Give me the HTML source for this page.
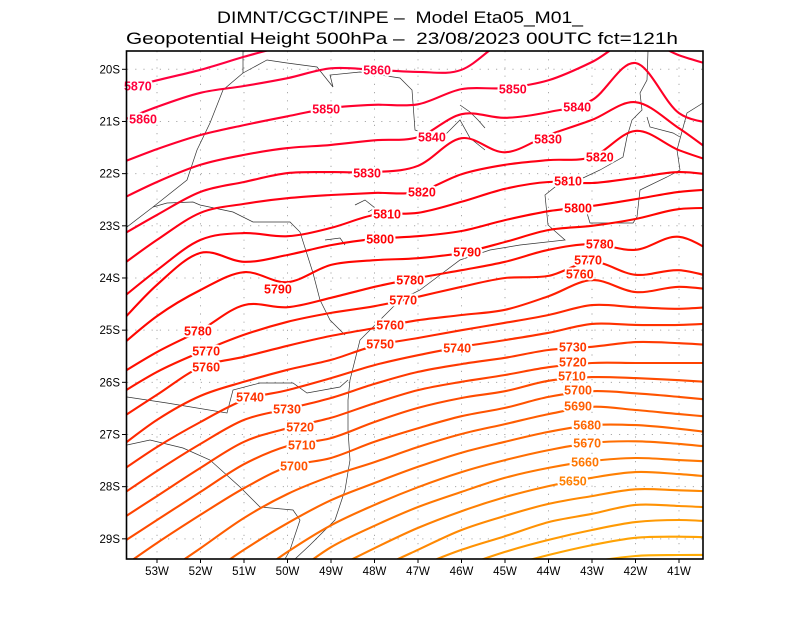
<!DOCTYPE html>
<html><head><meta charset="utf-8"><style>
html,body{margin:0;padding:0;background:#fff;width:800px;height:618px;overflow:hidden;}
svg{display:block;font-family:"Liberation Sans",sans-serif;overflow:hidden;}
</style></head><body>
<svg id="chart" width="800" height="618" viewBox="0 0 800 618" xmlns="http://www.w3.org/2000/svg">
<rect width="800" height="618" fill="#fff"/>
<text x="400" y="23" text-anchor="middle" font-size="16.5" textLength="366" lengthAdjust="spacingAndGlyphs" style="white-space:pre">DIMNT/CGCT/INPE –  Model Eta05_M01_</text>
<text x="402" y="44" text-anchor="middle" font-size="16.5" textLength="552" lengthAdjust="spacingAndGlyphs" style="white-space:pre">Geopotential Height 500hPa –  23/08/2023 00UTC fct=121h</text>
<defs><clipPath id="plotclip"><rect x="127" y="51" width="576" height="508"/></clipPath></defs>
<g id="grid"></g>
<g id="map" clip-path="url(#plotclip)" fill="none" stroke="#333" stroke-width="0.7">
<path d="M243,51 L243,73 L223,90 L210,123 L197,150 L187,180 L153,207 L127,227"/>
<path d="M243,73 L267,60 L287,63 L317,67 L333,87 L330,75 L360,72 L400,78 L412,90 L415,130 L440,140 L460,120 L470,138 L485,150"/>
<path d="M153,207 L167,203 L193,202 L200,205 L233,212 L253,222 L290,222 L300,232 L313,273 L320,300 L330,320 L345,335"/>
<path d="M127,397 L167,403 L227,413 L233,390 L260,383 L293,383 L307,393 L340,387 L348,380"/>
<path d="M127,445 L150,440 L183,448 L210,460 L240,487 L260,507 L293,510 L300,520 L290,550 L285,559"/>
<path d="M648,51 L647,80 L640,93 L642,110 L632,120 L627,137 L623,157 L600,170 L583,178 L560,183 L545,195 L548,225 L565,240 L520,245 L490,250 L460,260 L440,275 L420,290 L400,300 L380,320 L360,340 L355,360 L350,380 L348,400 L348,430 L350,460 L345,490 L335,520 L310,545 L295,559"/>
<path d="M703,103 L687,113 L677,150 L680,170 L667,177 L640,190 L637,217 L633,223 L590,223 L587,213 M647,117 L650,127 L673,133 L680,137"/>
<path d="M355,205 L365,200 L375,208 L368,212 M325,240 L340,238 L345,245 M460,105 L470,112 L478,120 L485,128"/>
</g>
<g id="contours" clip-path="url(#plotclip)"></g>
<g id="labels"></g>
<rect x="126.5" y="51" width="576.5" height="508" fill="none" stroke="#000" stroke-width="1.6"/>
<g id="axes"></g>
</svg>
<script>
// ---- data ----
const lons = [-54,-53,-52,-51,-50,-49,-48,-47,-46,-45,-44,-43,-42,-41,-40];
const levels = [5870,5860,5850,5840,5830,5820,5810,5800,5790,5780,5770,5760,5750,5740,5730,5720,5710,5700,5690,5680,5670,5660,5650,5640,5630,5620,5610,5600];
const lat5870 = [20.42,20.21,20.01,19.76,19.53,19.25,19.2,19.2,19.2,19.2,19.2,19.2,19.2,19.2,19.2];
const lat5860 = [21.05,20.72,20.45,20.32,20.17,19.98,20.01,20.05,20.01,19.44,19.25,19.15,19.15,19.25,19.34];
const lat5850 = [21.85,21.53,21.26,21.07,20.90,20.74,20.68,20.67,20.38,20.36,20.21,19.86,19.40,19.73,19.98];
const lat5840 = [22.56,22.16,21.83,21.64,21.51,21.45,21.36,21.30,20.86,20.93,20.82,20.59,19.88,20.84,21.05];
const lat5830 = [23.27,22.79,22.35,22.16,21.99,21.97,21.97,21.85,21.32,21.59,21.26,20.97,20.63,21.13,21.74];
const lat5820 = [23.87,23.27,22.75,22.58,22.47,22.41,22.37,22.35,22.01,21.83,21.74,21.68,21.18,21.55,21.83];
const lat5810 = [24.52,23.85,23.27,23.14,23.20,23.04,22.79,22.75,22.54,22.29,22.16,22.18,22.08,21.97,22.05];
const lat5800 = [25.00,24.13,23.52,23.69,23.56,23.37,23.25,23.20,23.10,22.89,22.72,22.62,22.49,22.35,22.29];
const lat5790 = [25.42,24.73,24.23,23.89,24.08,23.75,23.66,23.62,23.52,23.31,23.08,23.00,22.87,22.68,22.66];
const lat5780 = [25.92,25.42,25.00,24.52,24.56,24.38,24.17,24.00,23.85,23.69,23.46,23.35,23.46,23.21,23.62];
const lat5770 = [26.30,25.80,25.42,25.09,24.84,24.67,24.54,24.36,24.17,24.00,23.96,23.69,23.94,23.85,24.04];
const lat5760 = [26.78,26.24,25.71,25.51,25.30,25.11,24.96,24.81,24.71,24.61,24.35,24.04,24.27,24.17,24.25];
const lat5750 = [27.34,26.72,26.26,25.99,25.76,25.57,25.30,25.15,25.00,24.86,24.71,24.52,24.56,24.59,24.54];
const lat5740 = [27.80,27.24,26.76,26.34,26.15,25.92,25.67,25.48,25.32,25.19,25.05,24.88,24.90,24.90,24.86];
const lat5730 = [28.26,27.70,27.18,26.72,26.51,26.30,26.03,25.80,25.65,25.53,25.38,25.32,25.23,25.25,25.30];
const lat5720 = [28.72,28.18,27.64,27.14,26.88,26.68,26.40,26.15,25.99,25.86,25.71,25.63,25.63,25.63,25.63];
const lat5710 = [29.18,28.64,28.10,27.57,27.22,27.07,26.76,26.49,26.30,26.17,25.97,25.90,25.92,25.96,26.01];
const lat5700 = [29.66,29.08,28.54,28.03,27.62,27.45,27.14,26.88,26.65,26.49,26.28,26.17,26.21,26.28,26.36];
const lat5690 = [30.36,29.75,29.18,28.60,28.14,27.80,27.53,27.24,26.99,26.80,26.61,26.47,26.53,26.61,26.68];
const lat5680 = [31.04,30.40,29.79,29.21,28.70,28.26,27.93,27.62,27.35,27.14,26.95,26.82,26.82,26.89,26.99];
const lat5670 = [31.71,31.09,30.44,29.85,29.25,28.74,28.35,28.01,27.72,27.49,27.30,27.16,27.13,27.18,27.26];
const lat5660 = [32.20,31.59,30.98,30.36,29.75,29.16,28.75,28.39,28.10,27.83,27.64,27.51,27.45,27.49,27.53];
const lat5650 = [32.63,32.01,31.40,30.79,30.17,29.60,29.18,28.79,28.47,28.20,27.99,27.83,27.72,27.76,27.83];
const lat5640 = [33.16,32.55,31.94,31.32,30.71,30.13,29.60,29.21,28.83,28.56,28.33,28.18,28.05,28.07,28.10];
const lat5630 = [33.39,32.82,32.24,31.67,31.09,30.52,29.98,29.54,29.21,28.95,28.68,28.52,28.35,28.37,28.41];
const lat5620 = [33.62,33.05,32.47,31.90,31.32,30.75,30.27,29.89,29.54,29.25,29.02,28.83,28.68,28.64,28.68];
const lat5610 = [33.53,33.05,32.57,32.09,31.61,31.13,30.65,30.27,29.89,29.54,29.31,29.12,28.98,28.96,28.98];
const lat5600 = [33.05,32.66,32.28,31.90,31.51,31.13,30.75,30.46,30.17,29.89,29.64,29.44,29.33,29.31,29.31];
const contourLats = [lat5870,lat5860,lat5850,lat5840,lat5830,lat5820,lat5810,lat5800,lat5790,lat5780,lat5770,lat5760,lat5750,lat5740,lat5730,lat5720,lat5710,lat5700,lat5690,lat5680,lat5670,lat5660,lat5650,lat5640,lat5630,lat5620,lat5610,lat5600];
const labelLevels = [5870,5860,5860,5850,5850,5840,5840,5830,5830,5820,5820,5810,5810,5800,5800,5790,5790,5780,5780,5780,5770,5770,5770,5760,5760,5760,5750,5740,5740,5730,5730,5720,5720,5710,5710,5700,5700,5690,5680,5670,5660,5650];
const labelLons = [-53.44,-53.32,-47.94,-49.11,-44.82,-46.68,-43.34,-48.17,-44.01,-46.91,-42.82,-47.71,-43.55,-47.87,-43.32,-50.22,-45.87,-52.06,-47.18,-42.82,-51.87,-47.34,-43.09,-51.87,-47.64,-43.28,-47.87,-50.86,-46.10,-50.01,-43.44,-49.71,-43.44,-49.67,-43.46,-49.85,-43.32,-43.32,-43.11,-43.11,-43.16,-43.44];
const labelLats = [20.32,20.95,20.01,20.76,20.38,21.30,20.72,21.99,21.34,22.35,21.68,22.77,22.14,23.25,22.66,24.21,23.50,25.02,24.04,23.35,25.40,24.42,23.66,25.71,24.90,23.92,25.27,26.28,25.34,26.51,25.32,26.86,25.61,27.20,25.88,27.60,26.15,26.45,26.82,27.16,27.53,27.89];
const lonTicks = [-53,-52,-51,-50,-49,-48,-47,-46,-45,-44,-43,-42,-41];
const lonTickLabels = ["53W","52W","51W","50W","49W","48W","47W","46W","45W","44W","43W","42W","41W"];
const latTicks = [20,21,22,23,24,25,26,27,28,29];
const latTickLabels = ["20S","21S","22S","23S","24S","25S","26S","27S","28S","29S"];

// ---- axis functions ----
function xS(lon){ return 157 + (lon + 53) * 43.5; }
function yS(lat){ return 69.3 + (lat - 20) * 52.17; }
function colorFor(level){
  const h = (345 + (5870 - level) / 270 * 55) % 360;
  const l = 50 + Math.max(0, (5700 - level)) / 100 * 1;
  return 'hsl(' + h.toFixed(1) + ',100%,' + l.toFixed(1) + '%)';
}
const NS = 'http://www.w3.org/2000/svg';
function mk(tag, attrs){ const e = document.createElementNS(NS, tag); for (const k in attrs) e.setAttribute(k, attrs[k]); return e; }
function smoothPath(pts){
  let d = 'M' + pts[0][0].toFixed(1) + ',' + pts[0][1].toFixed(1);
  for (let i = 0; i < pts.length - 1; i++){
    const p0 = pts[i-1] || pts[i], p1 = pts[i], p2 = pts[i+1], p3 = pts[i+2] || p2;
    const c1x = p1[0] + (p2[0]-p0[0])/6, c1y = p1[1] + (p2[1]-p0[1])/6;
    const c2x = p2[0] - (p3[0]-p1[0])/6, c2y = p2[1] - (p3[1]-p1[1])/6;
    d += ' C' + c1x.toFixed(1)+','+c1y.toFixed(1)+' '+c2x.toFixed(1)+','+c2y.toFixed(1)+' '+p2[0].toFixed(1)+','+p2[1].toFixed(1);
  }
  return d;
}
// trim points far below the plot so paths stay within the page
function trimBottom(pts){
  const limit = 575;
  let k = 0;
  while (k < pts.length && pts[k][1] > limit) k++;
  if (k === 0 || k >= pts.length) return pts;
  const a = pts[k-1], b = pts[k];
  const t = (limit - a[1]) / (b[1] - a[1]);
  const start = [a[0] + t * (b[0] - a[0]), limit];
  return [start].concat(pts.slice(k));
}

// grid
const grid = document.getElementById('grid');
lonTicks.forEach(function(lon){
  const l = mk('line', {x1: xS(lon), x2: xS(lon), y1: 51, y2: 559, stroke: '#aaa', 'stroke-width': 1, 'stroke-dasharray': '1.2,7'});
  
  
  grid.appendChild(l);
});
latTicks.forEach(function(lat){
  const l = mk('line', {x1: 127, x2: 703, y1: yS(lat), y2: yS(lat), stroke: '#aaa', 'stroke-width': 1, 'stroke-dasharray': '1.2,7'});
  
  
  grid.appendChild(l);
});

// contours
const cg = document.getElementById('contours');
levels.forEach(function(level, i){
  const pts = trimBottom(lons.map(function(lon, j){ return [xS(lon), yS(contourLats[i][j])]; }));
  const p = mk('path', {d: smoothPath(pts), fill: 'none', stroke: colorFor(level), 'stroke-width': 2.1, 'stroke-linejoin': 'round'});
  
  
  cg.appendChild(p);
});

// labels
const lg = document.getElementById('labels');
labelLevels.forEach(function(level, i){
  const t = mk('text', {x: xS(labelLons[i]), y: yS(labelLats[i]) + 4.5, 'text-anchor': 'middle', 'font-size': 12.5, 'font-weight': 'bold', fill: colorFor(level), stroke: '#fff', 'stroke-width': 4, 'paint-order': 'stroke', 'stroke-linejoin': 'round'});
  t.textContent = String(level);
  
  
  lg.appendChild(t);
});

// axes
const ax = document.getElementById('axes');
lonTicks.forEach(function(lon, i){
  const tk = mk('line', {x1: xS(lon), x2: xS(lon), y1: 559, y2: 563, stroke: '#000', 'stroke-width': 1});
  
  
  ax.appendChild(tk);
  const t = mk('text', {x: xS(lon), y: 575, 'text-anchor': 'middle', 'font-size': 11.5});
  t.textContent = lonTickLabels[i];
  
  
  ax.appendChild(t);
});
latTicks.forEach(function(lat, i){
  const tk = mk('line', {x1: 122, x2: 127, y1: yS(lat), y2: yS(lat), stroke: '#000', 'stroke-width': 1});
  
  
  ax.appendChild(tk);
  const t = mk('text', {x: 120, y: yS(lat) + 4, 'text-anchor': 'end', 'font-size': 11.5});
  t.textContent = latTickLabels[i];
  
  
  ax.appendChild(t);
});
</script>
</body></html>
